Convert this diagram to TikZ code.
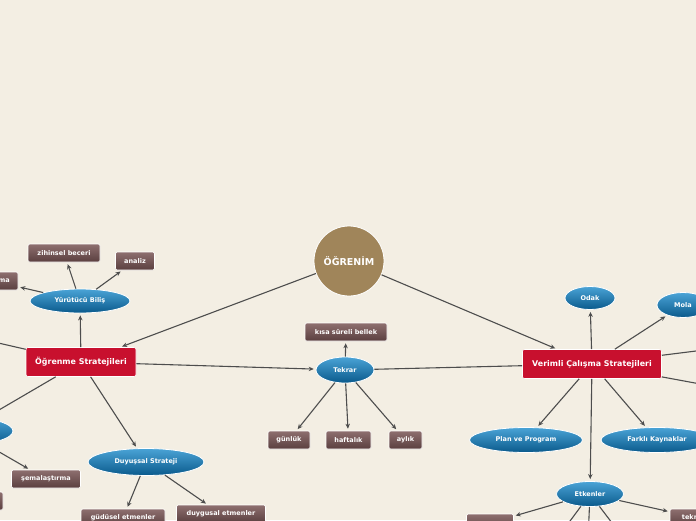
\documentclass[tikz,border=0pt]{standalone}
\usepackage{fontspec}
\setsansfont{DejaVu Sans}
\usetikzlibrary{shapes.geometric,arrows.meta}
\definecolor{paper}{HTML}{F3EEE3}
\definecolor{hubred}{HTML}{C8102E}
\definecolor{rootgold}{HTML}{A0855A}
\definecolor{bluetop}{HTML}{4AA3D6}
\definecolor{bluebot}{HTML}{0A5A8C}
\definecolor{leaftop}{HTML}{8E6F6F}
\definecolor{leafbot}{HTML}{5A3F3F}
\definecolor{wire}{HTML}{4D4D4D}

\begin{document}
\begin{tikzpicture}[x=1pt,y=-1pt,>={Stealth[length=5pt,width=4.5pt]},
  font=\sffamily\bfseries\fontsize{6.5}{7.5}\selectfont,
  blob/.style={ellipse,draw=white,line width=0.8pt,top color=bluetop,bottom color=bluebot,text=white,inner sep=0pt,minimum height=25pt},
  leaf/.style={rectangle,rounded corners=1.5pt,draw=white,line width=0.6pt,top color=leaftop,bottom color=leafbot,text=white,inner sep=0pt,minimum height=18pt},
  hub/.style={rectangle,rounded corners=2pt,draw=white,line width=0.6pt,fill=hubred,text=white,minimum height=29pt,inner sep=0pt,font=\sffamily\bfseries\fontsize{7.9}{9}\selectfont},
  link/.style={draw=wire,line width=1.1pt},
  arr/.style={link,->,shorten >=2pt}]
\useasboundingbox[fill=paper] (0,0) rectangle (696,520);

% centre
\node[circle,draw=white,line width=0.8pt,fill=rootgold,text=white,minimum size=70pt,font=\sffamily\bfseries\fontsize{9.5}{11}\selectfont] (root) at (349,261) {ÖĞRENİM};

% left branch
\node[hub,minimum width=110pt] (ogs) at (81,362) {Öğrenme Stratejileri};
\node[blob,minimum width=100pt,minimum height=24pt] (yb) at (80,301) {Yürütücü Biliş};
\node[leaf,minimum width=72pt] (zb) at (64,253) {zihinsel beceri};
\node[leaf,minimum width=39pt] (an) at (135,261) {analiz};
\node[leaf,minimum width=50pt] (pl) at (-7,281) {planlama};
\node[blob,minimum width=100pt,minimum height=28pt] (bs) at (-37,431) {};
\node[leaf,minimum width=69pt] (sm) at (46,479) {şemalaştırma};
\node[leaf,minimum width=56pt] (bl) at (-25,501) {};
\node[blob,minimum width=116pt,minimum height=27pt] (ds) at (146,462) {Duyuşsal Strateji};
\node[leaf,minimum width=84pt] (ge) at (123,518) {güdüsel etmenler};
\node[leaf,minimum width=89pt] (de) at (221,514) {duygusal etmenler};
\coordinate (ul) at (-80,325);

% middle
\node[blob,minimum width=58pt,minimum height=26pt] (tk) at (345,370) {Tekrar};
\node[leaf,minimum width=82pt] (ks) at (346,332) {kısa süreli bellek};
\node[leaf,minimum width=42pt] (gu) at (289,440) {günlük};
\node[leaf,minimum width=45pt] (hf) at (348.5,440) {haftalık};
\node[leaf,minimum width=33pt] (ay) at (405.5,440) {aylık};

% right branch
\node[hub,minimum width=139pt] (vcs) at (592,364) {Verimli Çalışma Stratejileri};
\node[blob,minimum width=50pt,minimum height=23pt] (od) at (590,298) {Odak};
\node[blob,minimum width=52pt] (mo) at (683,305) {Mola};
\node[blob,minimum width=113pt] (pp) at (526,440) {Plan ve Program};
\node[blob,minimum width=112pt] (fk) at (657,440) {Farklı Kaynaklar};
\node[blob,minimum width=67pt] (et) at (590,494) {Etkenler};
\node[leaf,minimum width=47pt] (e1) at (490,523) {};
\node[leaf,minimum width=56pt] (e2) at (698,518) {teknoloji};
\coordinate (r1) at (760,343);
\coordinate (r2) at (760,395);
\coordinate (d1) at (556,540);
\coordinate (d2) at (588,540);
\coordinate (d3) at (625,540);

\draw[arr] (root) -- (ogs);
\draw[arr] (root) -- (vcs);
\draw[arr] (ogs) -- (yb);
\foreach \t in {zb,an,pl} \draw[arr] (yb) -- (\t);
\draw[link] (ogs) -- (ul);
\draw[arr] (ogs) -- (bs);
\foreach \t in {sm,bl} \draw[arr] (bs) -- (\t);
\draw[arr] (ogs) -- (ds);
\foreach \t in {ge,de} \draw[arr] (ds) -- (\t);
\draw[arr] (ogs) -- (tk);
\foreach \t in {ks,gu,hf,ay} \draw[arr] (tk) -- (\t);
\draw[link] (tk) -- (vcs);
\foreach \t in {od,mo,pp,fk,et} \draw[arr] (vcs) -- (\t);
\draw[link] (vcs) -- (r1);
\draw[link] (vcs) -- (r2);
\foreach \t in {e1,e2} \draw[arr] (et) -- (\t);
\foreach \t in {d1,d2,d3} \draw[link] (et) -- (\t);
\end{tikzpicture}
\end{document}
